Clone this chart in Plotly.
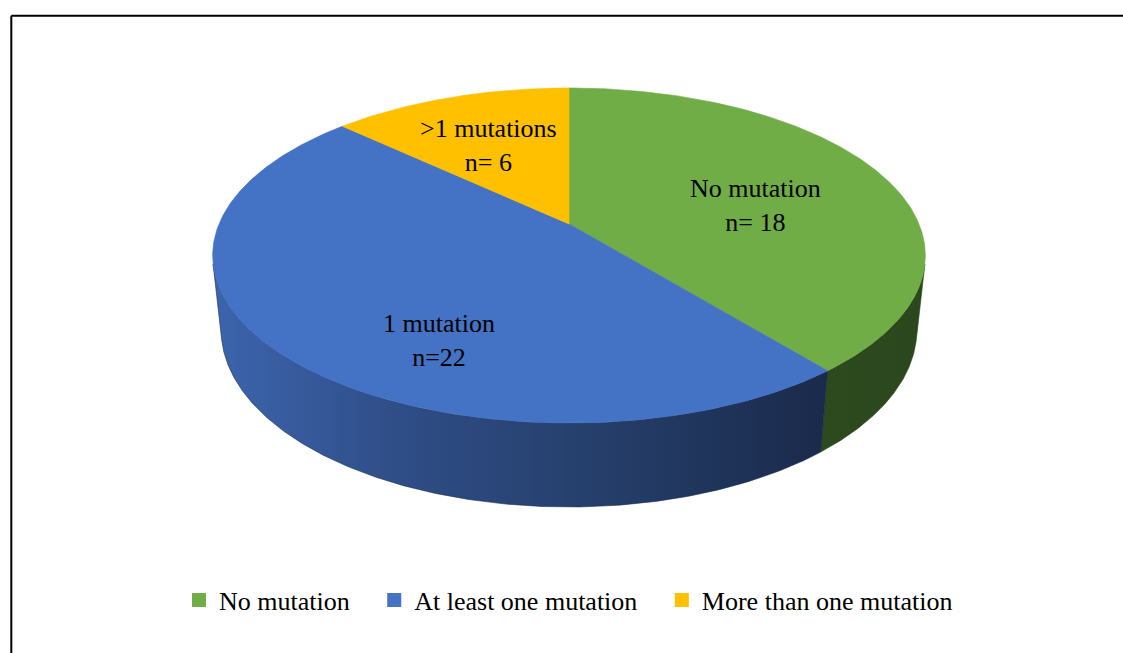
import numpy as np
import plotly.graph_objects as go

# ---- data ----
categories = ["No mutation", "At least one mutation", "More than one mutation"]
counts = [18, 22, 6]
slice_labels = ["No mutation<br>n= 18", "1 mutation<br>n=22", ">1 mutations<br>n= 6"]
label_pos_x = [755, 439, 488]
label_pos_y = [205, 340, 145]

top_colors = ["#70AD47", "#4472C4", "#FFC000"]
side_colors = [
    [[0, "#2d4a1f"], [1, "#2b471d"]],
    [[0, "#3c65ae"], [0.3, "#2f4d87"], [0.6, "#26406d"], [1, "#1a2a4b"]],
    [[0, "#7f6000"], [1, "#7f6000"]],
]

W, H = 1123, 653
FONT = "Liberation Serif, Times New Roman, serif"

# ---- perspective camera for the 3-D pie ----
CX, CY = 569.0, 224.0      # screen position of the pie centre
FOCAL = 1651.0
DIST = 4.717               # camera distance in pie radii
TILT = np.radians(27.5)    # elevation of the view
THICK = 0.241              # pie thickness in radii


def project(t, z):
    """Project a rim point at angle t (clockwise from 12 o'clock) and height z."""
    X, Y = np.sin(t), np.cos(t)
    d = DIST + Y * np.cos(TILT) - z * np.sin(TILT)
    yc = Y * np.sin(TILT) + z * np.cos(TILT)
    return CX + FOCAL * X / d, CY - FOCAL * yc / d


total = float(sum(counts))
bounds = np.concatenate([[0.0], np.cumsum(counts)]) / total * 2 * np.pi

# part of the cylinder wall that faces the camera
vis_lo = np.arccos(-1.0 / (DIST * np.cos(TILT)))
vis_hi = 2 * np.pi - vis_lo

fig = go.Figure()

# side walls first
for i in range(len(counts)):
    a0, a1 = max(bounds[i], vis_lo), min(bounds[i + 1], vis_hi)
    if a1 <= a0:
        continue
    t = np.linspace(a0, a1, 200)
    xt, yt = project(t, 0.0)
    xb, yb = project(t[::-1], -THICK)
    xs = np.concatenate([xt, xb, xt[:1]])
    ys = np.concatenate([yt, yb, yt[:1]])
    fig.add_trace(go.Scatter(
        x=xs, y=ys, mode="lines", fill="toself",
        line=dict(width=0.6, color=side_colors[i][-1][1]),
        fillgradient=dict(type="horizontal", colorscale=side_colors[i],
                          start=float(xs.min()), stop=float(xs.max())),
        hoverinfo="skip", showlegend=False,
    ))

# top faces
for i in range(len(counts)):
    t = np.linspace(bounds[i], bounds[i + 1], 300)
    xr, yr = project(t, 0.0)
    xs = np.concatenate([[CX], xr, [CX]])
    ys = np.concatenate([[CY], yr, [CY]])
    fig.add_trace(go.Scatter(
        x=xs, y=ys, mode="lines", fill="toself",
        fillcolor=top_colors[i], line=dict(width=0.6, color=top_colors[i]),
        hoverinfo="skip", showlegend=False,
    ))

# legend entries
for name, c in zip(categories, top_colors):
    fig.add_trace(go.Scatter(
        x=[None], y=[None], mode="markers", name=name + "\u00a0\u00a0\u00a0",
        marker=dict(symbol="square", size=14, color=c),
    ))

# slice labels
for txt, lx, ly in zip(slice_labels, label_pos_x, label_pos_y):
    fig.add_annotation(x=lx, y=ly, text=txt, showarrow=False,
                       font=dict(family=FONT, size=26, color="black"),
                       xanchor="center", yanchor="middle")

# outer frame
fig.add_shape(type="line", x0=11.3, y0=15.7, x1=1130, y1=15.7,
              line=dict(color="black", width=2))
fig.add_shape(type="line", x0=11.3, y0=15.7, x1=11.3, y1=670,
              line=dict(color="black", width=2))

fig.update_layout(
    width=W, height=H,
    margin=dict(l=0, r=0, t=0, b=0),
    paper_bgcolor="white", plot_bgcolor="white",
    xaxis=dict(range=[0, W], visible=False, fixedrange=True),
    yaxis=dict(range=[H, 0], visible=False, fixedrange=True),
    legend=dict(orientation="h", x=179 / W, xanchor="left",
                y=1 - 600 / H, yanchor="middle",
                font=dict(family=FONT, size=26, color="black"),
                bgcolor="rgba(0,0,0,0)"),
    showlegend=True,
)

fig.write_html("out.html")
